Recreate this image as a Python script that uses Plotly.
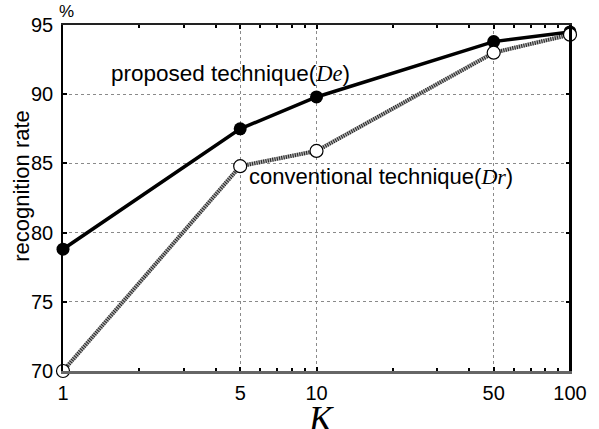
import plotly.graph_objects as go

K = [1, 5, 10, 50, 100]
proposed = [78.8, 87.5, 89.8, 93.8, 94.5]
conventional = [70.0, 84.8, 85.9, 93.0, 94.3]
x_ticks = [1, 5, 10, 50, 100]
y_ticks = [70, 75, 80, 85, 90, 95]
x_minor = [2, 3, 4, 6, 7, 8, 9, 20, 30, 40, 60, 70, 80, 90]

SANS = "Liberation Sans, Arial, sans-serif"
SERIF = "Liberation Serif, Times New Roman, serif"

fig = go.Figure()
fig.add_trace(go.Scatter(x=K, y=conventional, mode="lines",
                         line=dict(color="#b0b0b0", width=4), cliponaxis=False,
                         showlegend=False, hoverinfo="skip"))
fig.add_trace(go.Scatter(x=K, y=conventional, mode="lines",
                         line=dict(color="#222", width=4, dash="1px,1.3px"), cliponaxis=False,
                         showlegend=False, hoverinfo="skip"))
fig.add_trace(go.Scatter(x=K, y=proposed, mode="lines+markers",
                         line=dict(color="black", width=3.5),
                         marker=dict(color="black", size=13), cliponaxis=False,
                         showlegend=False))
fig.add_trace(go.Scatter(x=K, y=conventional, mode="markers",
                         marker=dict(color="white", size=13, line=dict(color="black", width=1.2)),
                         cliponaxis=False, showlegend=False))

fig.update_layout(
    xaxis=dict(type="log", range=[0, 2], tickvals=x_ticks, ticktext=[str(v) for v in x_ticks],
               showgrid=True, gridcolor="#8a8a8a", griddash="dot", gridwidth=1,
               ticks="inside", ticklen=4, tickcolor="black", tickwidth=1.5,
               showline=True, linecolor="#666", linewidth=3, mirror=False,
               minor=dict(tickvals=x_minor, ticks="inside", ticklen=3, tickcolor="black",
                          tickwidth=1.5, showgrid=False),
               tickfont=dict(family=SANS, size=20, color="black"), zeroline=False,
               ticklabelstandoff=2),
    xaxis2=dict(type="log", range=[0, 2], overlaying="x", side="top", tickvals=x_ticks,
                showticklabels=False, showgrid=False, zeroline=False,
                ticks="inside", ticklen=4, tickcolor="black", tickwidth=1.5,
                showline=True, linecolor="#222", linewidth=1.5,
                minor=dict(tickvals=x_minor, ticks="inside", ticklen=3, tickcolor="black",
                           tickwidth=1.5, showgrid=False)),
    yaxis=dict(range=[70, 95], tickvals=y_ticks,
               showgrid=True, gridcolor="#8a8a8a", griddash="dot", gridwidth=1,
               ticks="inside", ticklen=4, tickcolor="black", tickwidth=1.5,
               showline=True, linecolor="black", linewidth=1.5, mirror="ticks",
               tickfont=dict(family=SANS, size=20, color="black"), zeroline=False,
               ticklabelstandoff=4),
)
# invisible trace to anchor the top axis
fig.add_trace(go.Scatter(x=K, y=proposed, xaxis="x2", mode="lines",
                         line=dict(color="rgba(0,0,0,0)"), showlegend=False, hoverinfo="skip"))

fig.add_shape(type="line", xref="paper", yref="paper", x0=1, x1=1, y0=0, y1=1,
              line=dict(color="black", width=2))

fig.add_annotation(xref="paper", yref="paper", x=0.091, y=0.861, xanchor="left", yanchor="middle",
                   text="proposed technique(<i><span style='font-family:Liberation Serif'>De</span></i>)",
                   showarrow=False, font=dict(family=SANS, size=22.5, color="black"))
fig.add_annotation(xref="paper", yref="paper", x=0.362, y=0.561, xanchor="left", yanchor="middle",
                   text="conventional technique(<i><span style='font-family:Liberation Serif'>Dr</span></i>)",
                   showarrow=False, font=dict(family=SANS, size=22, color="black"))
fig.add_annotation(xref="paper", yref="paper", x=0.006, y=1.038, xanchor="center", yanchor="middle",
                   text="%", showarrow=False, font=dict(family=SANS, size=17, color="black"))
fig.add_annotation(xref="paper", yref="paper", x=0.508, y=-0.139, xanchor="center", yanchor="middle",
                   text="<i>K</i>", showarrow=False, font=dict(family=SERIF, size=35, color="black"))
fig.add_annotation(xref="paper", yref="paper", x=-0.081, y=0.535, xanchor="center", yanchor="middle",
                   text="recognition rate", textangle=-90, showarrow=False,
                   font=dict(family=SANS, size=22, color="black"))

fig.update_layout(width=599, height=429, margin=dict(l=63, r=19, t=25, b=58),
                  plot_bgcolor="white", paper_bgcolor="white")
fig.write_html("out.html", config={"displayModeBar": False},
               post_script="document.body.style.margin='0';document.body.style.padding='0';")
